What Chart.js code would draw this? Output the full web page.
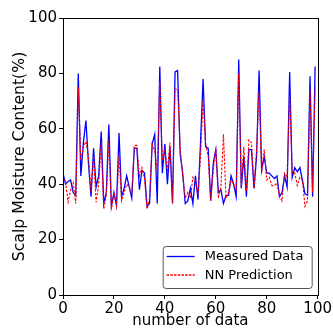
<!DOCTYPE html>
<html>
<head>
<meta charset="utf-8">
<script src="https://cdn.jsdelivr.net/npm/chart.js@4/dist/chart.umd.min.js"></script>
<style>
html,body{margin:0;padding:0;background:#fff;}
#c{display:block;}
</style>
</head>
<body>
<canvas id="c" width="333" height="329"></canvas>
<script>
const measuredLabel = "Measured Data";
const predictedLabel = "NN Prediction";
const xTitle = "number of data";
const yTitle = "Scalp Moisture Content(%)";
const xTicks = [0, 20, 40, 60, 80, 100];
const yTicks = [0, 20, 40, 60, 80, 100];

const measured = [
  44, 40, 41, 41.5, 37, 36, 80, 43, 55, 63,
  47.5, 35.5, 53, 39, 43, 59, 33, 37, 61.5, 32,
  37, 32.5, 58.5, 35.5, 38.5, 43, 39, 35, 53, 53,
  38, 45, 44, 32, 33, 54.5, 58, 33, 82.5, 44,
  54.5, 40, 53.5, 33, 80.5, 81, 51, 44, 33, 34,
  38.5, 33, 43, 34.5, 55, 78, 53.5, 53, 34, 47.5,
  52.5, 37, 38, 33, 36, 36, 43, 40, 35.5, 85,
  38.5, 50, 35.5, 52.5, 52.5, 38.5, 50, 81, 45, 50,
  44, 44, 43, 42, 43, 35.5, 37, 43, 39, 80.5,
  42.5, 46, 44.5, 46, 41.5, 36.5, 36, 79, 35.5, 82.5
];
const predicted = [
  42, 41, 33.5, 38, 40.5, 33, 75, 48.5, 53.5, 55.5,
  50, 37, 50, 33.5, 40, 55, 31, 36, 56, 31,
  37, 32, 50.5, 34, 37, 40, 39, 36.5, 54, 54,
  43, 46, 42, 31, 35, 54.5, 52, 45, 77, 48.5,
  52, 45, 55, 33, 74.5, 74, 53.5, 43, 35, 37,
  35, 42.5, 41, 36, 50, 70.5, 54.5, 50, 34, 45,
  53, 35, 39, 58, 35, 37, 41.5, 40, 37.5, 80,
  39, 53.5, 37.5, 56, 55, 38.5, 52.5, 73.5, 44, 52.5,
  41.5, 42.5, 39.5, 39.5, 40.5, 35.5, 34, 44, 42.5, 72,
  44, 44, 39.5, 42.5, 41.5, 32, 34, 74, 37, 75
];

const FONT = "'DejaVu Sans', sans-serif";
const BLUE = '#0000ff';
const RED = '#ff0000';

const framePlugin = {
  id: 'frame',
  afterDatasetsDraw(chart) {
    const {ctx, chartArea: a} = chart;
    ctx.save();
    ctx.strokeStyle = '#000';
    ctx.lineWidth = 1;
    ctx.strokeRect(Math.round(a.left) + 0.5, Math.round(a.top) + 0.5,
                   Math.round(a.right - a.left), Math.round(a.bottom - a.top));
    ctx.restore();
  }
};

const legendPlugin = {
  id: 'boxLegend',
  afterDraw(chart) {
    const {ctx, chartArea: a} = chart;
    const w = 149, h = 42;
    const x0 = a.right - 6 - w, y0 = a.bottom - 7 - h;
    ctx.save();
    ctx.beginPath();
    if (ctx.roundRect) ctx.roundRect(x0 + 0.5, y0 + 0.5, w, h, 3); else ctx.rect(x0 + 0.5, y0 + 0.5, w, h);
    ctx.fillStyle = 'rgba(255,255,255,0.85)';
    ctx.fill();
    ctx.strokeStyle = '#555';
    ctx.lineWidth = 1;
    ctx.stroke();
    ctx.font = '13px ' + FONT;
    ctx.textBaseline = 'middle';
    const items = [
      {label: measuredLabel, color: BLUE, width: 1.3, dash: [], dy: 0.5},
      {label: predictedLabel, color: RED, width: 1.6, dash: [2.5, 1.2], dy: 0}
    ];
    items.forEach((it, i) => {
      const yy = y0 + 10 + i * 19;
      ctx.beginPath();
      ctx.setLineDash(it.dash);
      ctx.strokeStyle = it.color;
      ctx.lineWidth = it.width;
      ctx.moveTo(x0 + 4, yy + it.dy);
      ctx.lineTo(x0 + 32, yy + it.dy);
      ctx.stroke();
      ctx.setLineDash([]);
      ctx.fillStyle = '#000';
      ctx.fillText(it.label, x0 + 42, yy + 1);
    });
    ctx.restore();
  }
};

const toPoints = arr => arr.map((v, i) => ({x: i, y: v}));

new Chart(document.getElementById('c'), {
  type: 'line',
  data: {
    datasets: [
      {
        label: measuredLabel, order: 1,
        data: toPoints(measured),
        borderColor: BLUE, borderWidth: 1.3,
        pointRadius: 0, tension: 0, fill: false
      },
      {
        label: predictedLabel, order: 0,
        data: toPoints(predicted),
        borderColor: RED, borderWidth: 1.1, borderDash: [2.5, 1.5],
        pointRadius: 0, tension: 0, fill: false
      }
    ]
  },
  options: {
    responsive: false,
    animation: false,
    devicePixelRatio: 1,
    layout: {padding: {top: 18, right: 15, left: 0, bottom: 0}},
    plugins: {legend: {display: false}, tooltip: {enabled: false}},
    scales: {
      x: {
        type: 'linear', min: 0, max: 100,
        afterBuildTicks(s) { s.ticks = xTicks.map(v => ({value: v})); },
        afterFit(s) { s.height = 34; },
        ticks: {font: {family: FONT, size: 15}, color: '#000', padding: 1, maxRotation: 0},
        grid: {display: true, drawOnChartArea: false, drawTicks: true, tickLength: 4, color: '#000'},
        border: {display: true, color: '#000', width: 1},
        title: {display: true, text: xTitle, color: '#000',
                font: {family: FONT, size: 15, lineHeight: 1}, padding: {top: 0, bottom: 0}}
      },
      y: {
        min: 0, max: 100,
        afterBuildTicks(s) { s.ticks = yTicks.map(v => ({value: v})); },
        afterFit(s) { s.width = 63; },
        ticks: {font: {family: FONT, size: 15}, color: '#000', padding: 2},
        grid: {display: true, drawOnChartArea: false, drawTicks: true, tickLength: 4, color: '#000'},
        border: {display: true, color: '#000', width: 1},
        title: {display: true, text: yTitle, color: '#000',
                font: {family: FONT, size: 15.7, lineHeight: 1.2}, padding: {top: 11, bottom: 0}}
      }
    }
  },
  plugins: [framePlugin, legendPlugin]
});
</script>
</body>
</html>
